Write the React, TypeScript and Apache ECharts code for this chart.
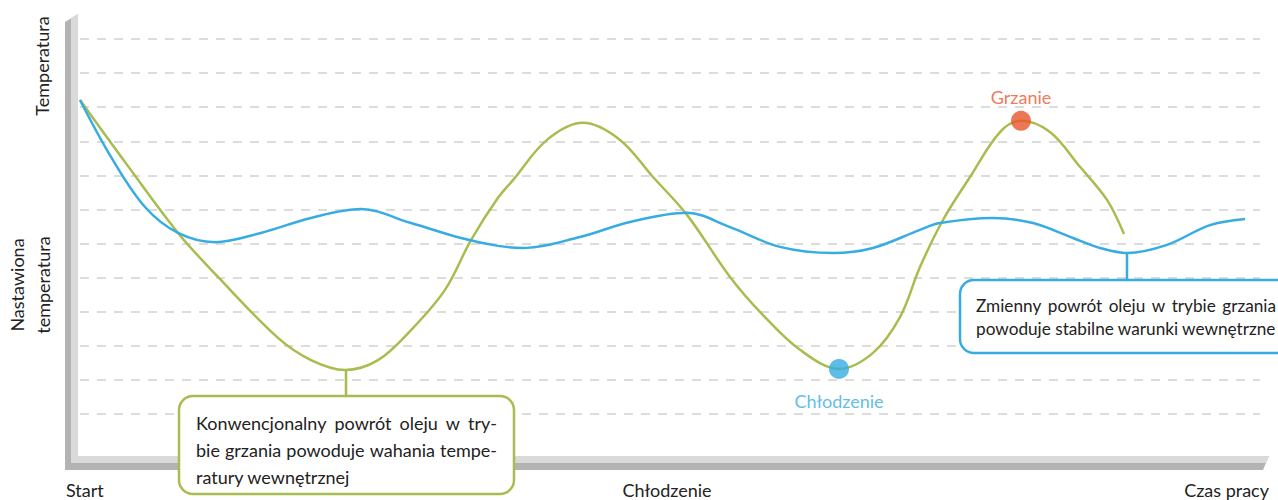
import React, { useEffect, useRef } from "react";
import * as echarts from "echarts";

// Time axis (arbitrary units) and temperature (arbitrary units)
const greenT = [0, 4.8, 9.8, 13.8, 19.8, 23.1, 26.5, 29.8, 33.1, 36.5, 39.1, 41.8, 43.3, 46.7, 50.3, 54.0, 57.3, 60.7, 65.0, 68.3, 72.0, 75.9, 79.3, 82.0, 84.0, 86.3, 89.0, 92.0, 94.1, 97.0, 100.0, 102.7, 104.4];
const greenV = [10.21, 8.27, 6.31, 5.02, 3.23, 2.58, 2.29, 2.58, 3.46, 4.64, 6.10, 7.34, 7.86, 9.04, 9.54, 9.04, 7.95, 6.84, 5.02, 3.90, 2.88, 2.32, 2.79, 3.84, 5.31, 6.69, 7.95, 9.27, 9.60, 9.27, 8.25, 7.28, 6.28];

const blueT = [0, 3.1, 6.5, 9.8, 13.5, 18.1, 23.1, 28.1, 33.1, 38.1, 41.8, 44.3, 50.0, 55.0, 60.7, 65.0, 70.0, 75.3, 79.3, 84.0, 86.0, 91.3, 95.3, 99.3, 102.0, 104.7, 108.7, 113.0, 116.5];
const blueV = [10.21, 8.54, 7.07, 6.31, 6.04, 6.31, 6.75, 7.01, 6.60, 6.16, 5.93, 5.87, 6.19, 6.63, 6.90, 6.48, 5.90, 5.72, 5.87, 6.40, 6.60, 6.75, 6.60, 6.16, 5.87, 5.72, 5.96, 6.54, 6.72];

// highlighted points
const heatPoint = [94.1, 9.6];
const coolPoint = [75.9, 2.32];
const heatLabel = "Grzanie";
const coolLabel = "Chłodzenie";

// callout connectors [t, from v, to v]
const greenConnector = [26.6, 2.29, 1.55];
const blueConnector = [104.7, 5.72, 4.96];

const greenNoteLines = ["Konwencjonalny powrót oleju w try-", "bie grzania powoduje wahania tempe-", "ratury wewnętrznej"];
const blueNoteLines = ["Zmienny powrót oleju w trybie grzania", "powoduje stabilne warunki wewnętrzne"];

const xLabels = ["Start", "Chłodzenie", "Czas pracy"];
const yLabelTop = "Temperatura";
const yLabelMid = ["Nastawiona", "temperatura"];

const GREEN = "#a7bd4f";
const BLUE = "#36ace2";
const ORANGE = "#e9552b";
const TEXT = "#222222";
const FONT = "Lato, 'Open Sans', sans-serif";

const zip = (a: number[], b: number[]) => a.map((v, i) => [v, b[i]]);

function measure(text: string, font: string): number {
  try {
    const ctx = document.createElement("canvas").getContext("2d");
    if (!ctx) return text.length * 9;
    ctx.font = font;
    return ctx.measureText(text).width;
  } catch (e) {
    return text.length * 9;
  }
}

// Build justified text lines as graphic text elements
function justifiedText(lines: string[], x: number, yTop: number, lineHeight: number, width: number, font: string, justifyCount: number) {
  const els: any[] = [];
  lines.forEach((line, li) => {
    const yMid = yTop + lineHeight * li + lineHeight / 2;
    if (li < justifyCount) {
      const words = line.split(" ");
      const widths = words.map((w) => measure(w, font));
      const total = widths.reduce((s, w) => s + w, 0);
      const gap = words.length > 1 ? (width - total) / (words.length - 1) : 0;
      let cx = x;
      words.forEach((w, wi) => {
        els.push({
          type: "text",
          z: 101,
          x: cx,
          y: yMid,
          style: { text: w, font, fill: TEXT, align: "left", verticalAlign: "middle" },
        });
        cx += widths[wi] + gap;
      });
    } else {
      els.push({
        type: "text",
        z: 101,
        x,
        y: yMid,
        style: { text: line, font, fill: TEXT, align: "left", verticalAlign: "middle" },
      });
    }
  });
  return els;
}

export default function App() {
  const ref = useRef<HTMLDivElement>(null);
  useEffect(() => {
    if (!ref.current) return;
    const chart = echarts.init(ref.current, undefined, { renderer: "svg" });
    const noteFont = `18px ${FONT}`;
    const option: any = {
      animation: false,
      textStyle: { fontFamily: FONT },
      grid: { left: 80, top: 39, width: 1180, height: 409 },
      xAxis: {
        type: "value",
        min: 0,
        max: 118,
        axisLine: { show: false },
        axisTick: { show: false },
        axisLabel: { show: false },
        splitLine: { show: false },
      },
      yAxis: {
        type: "value",
        min: 0,
        max: 12,
        interval: 1,
        axisLine: { show: false },
        axisTick: { show: false },
        axisLabel: { show: false },
        splitLine: {
          show: true,
          showMinLine: false,
          lineStyle: { color: "#dcdcdc", width: 2, type: [9, 8] },
        },
      },
      series: [
        {
          type: "line",
          data: zip(greenT, greenV),
          smooth: 0.35,
          showSymbol: false,
          lineStyle: { color: GREEN, width: 2.5 },
          z: 3,
        },
        {
          type: "line",
          data: zip(blueT, blueV),
          smooth: 0.35,
          showSymbol: false,
          lineStyle: { color: BLUE, width: 2.5 },
          z: 3,
        },
        {
          type: "line",
          data: [[greenConnector[0], greenConnector[1]], [greenConnector[0], greenConnector[2]]],
          showSymbol: false,
          lineStyle: { color: GREEN, width: 2.5 },
          z: 3,
        },
        {
          type: "line",
          data: [[blueConnector[0], blueConnector[1]], [blueConnector[0], blueConnector[2]]],
          showSymbol: false,
          lineStyle: { color: BLUE, width: 2.5 },
          z: 3,
        },
        {
          type: "scatter",
          data: [heatPoint],
          symbolSize: 20,
          itemStyle: { color: ORANGE },
          label: {
            show: true,
            position: "top",
            distance: 5,
            formatter: heatLabel,
            color: ORANGE,
            fontSize: 18,
            fontFamily: FONT,
          },
          z: 5,
        },
        {
          type: "scatter",
          data: [coolPoint],
          symbolSize: 20,
          itemStyle: { color: BLUE },
          label: {
            show: true,
            position: "bottom",
            distance: 13,
            formatter: coolLabel,
            color: BLUE,
            fontSize: 18,
            fontFamily: FONT,
          },
          z: 5,
        },
      ],
      graphic: [
        // 3D-looking axes
        {
          type: "polygon",
          z: 1,
          shape: { points: [[65, 22], [78, 14], [78, 456], [1269, 456], [1263, 470], [65, 470]] },
          style: { fill: "#b3b3b3" },
        },
        {
          type: "polygon",
          z: 2,
          shape: { points: [[71, 18], [78, 14], [78, 456], [1269, 456], [1266, 463], [71, 463]] },
          style: { fill: "#dadada" },
        },
        // axis texts
        {
          type: "text",
          z: 2,
          x: 66,
          y: 490,
          style: { text: xLabels[0], font: `18px ${FONT}`, fill: TEXT, align: "left", verticalAlign: "middle" },
        },
        {
          type: "text",
          z: 2,
          x: 667,
          y: 490,
          style: { text: xLabels[1], font: `18px ${FONT}`, fill: TEXT, align: "center", verticalAlign: "middle" },
        },
        {
          type: "text",
          z: 2,
          x: 1269,
          y: 490,
          style: { text: xLabels[2], font: `18px ${FONT}`, fill: TEXT, align: "right", verticalAlign: "middle" },
        },
        {
          type: "text",
          z: 2,
          x: 42,
          y: 66,
          rotation: Math.PI / 2,
          style: { text: yLabelTop, font: `18px ${FONT}`, fill: TEXT, align: "center", verticalAlign: "middle" },
        },
        {
          type: "text",
          z: 2,
          x: 17,
          y: 285,
          rotation: Math.PI / 2,
          style: { text: yLabelMid[0], font: `18px ${FONT}`, fill: TEXT, align: "center", verticalAlign: "middle" },
        },
        {
          type: "text",
          z: 2,
          x: 43,
          y: 285,
          rotation: Math.PI / 2,
          style: { text: yLabelMid[1], font: `18px ${FONT}`, fill: TEXT, align: "center", verticalAlign: "middle" },
        },
        // callout boxes
        {
          type: "rect",
          z: 100,
          shape: { x: 179, y: 396, width: 335, height: 98, r: 14 },
          style: { fill: "#ffffff", stroke: GREEN, lineWidth: 2.5 },
        },
        ...justifiedText(greenNoteLines, 196, 409.5, 27, 301, noteFont, 2),
        {
          type: "rect",
          z: 100,
          shape: { x: 960, y: 280, width: 340, height: 73, r: 14 },
          style: { fill: "#ffffff", stroke: BLUE, lineWidth: 2.5 },
        },
        ...justifiedText(blueNoteLines, 976, 293.5, 23, 300, `17.2px ${FONT}`, 1),
      ],
    };
    chart.setOption(option);
    return () => chart.dispose();
  }, []);
  return (
    <div
      ref={ref}
      style={{ position: "absolute", left: 0, top: 0, width: 1278, height: 500, background: "#ffffff" }}
    />
  );
}
